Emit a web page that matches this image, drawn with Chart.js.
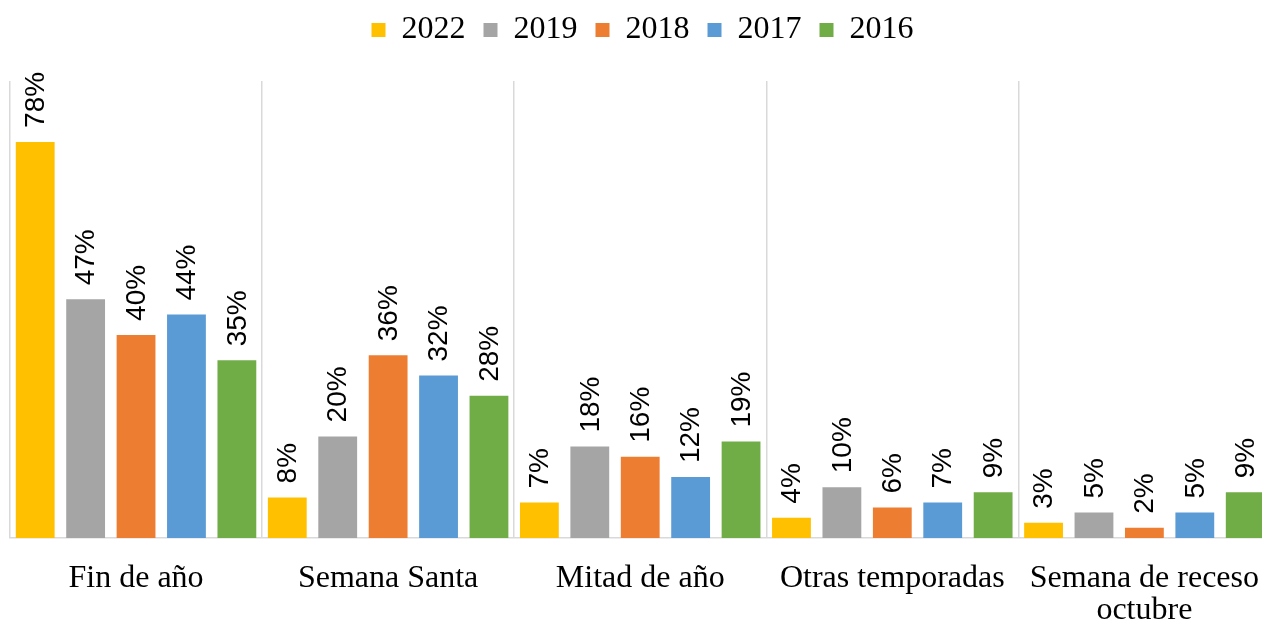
<!DOCTYPE html>
<html><head><meta charset="utf-8">
<script src="https://cdn.jsdelivr.net/npm/chart.js@4"></script>
<style>html,body{margin:0;padding:0;overflow:hidden;background:#fff;width:1262px;height:626px}
#wrap{position:absolute;left:0;top:0;width:1285px;height:626px}</style>
</head><body><div id="wrap"><canvas id="c"></canvas></div>
<script>
const categories = ['Fin de año','Semana Santa','Mitad de año','Otras temporadas',['Semana de receso','octubre']];
const seriesNames = ['2022','2019','2018','2017','2016'];
const v2022 = [78, 8, 7, 4, 3];
const v2019 = [47, 20, 18, 10, 5];
const v2018 = [40, 36, 16, 6, 2];
const v2017 = [44, 32, 12, 7, 5];
const v2016 = [35, 28, 19, 9, 9];
const colors = ['#FFC000','#A5A5A5','#ED7D31','#5B9BD5','#70AD47'];
const allValues = [v2022, v2019, v2018, v2017, v2016];

const labelPlugin = {
  id: 'barLabels',
  afterInit(chart) {
    const lg = chart.legend;
    if (lg) {
      const orig = lg.fit.bind(lg);
      lg.fit = function () { orig(); this.height = 85; };
    }
  },
  afterDatasetsDraw(chart) {
    const ctx = chart.ctx;
    ctx.save();
    ctx.font = '28px "Liberation Sans", Arial, sans-serif';
    ctx.fillStyle = '#000';
    ctx.textAlign = 'left';
    ctx.textBaseline = 'middle';
    chart.data.datasets.forEach((ds, i) => {
      const meta = chart.getDatasetMeta(i);
      meta.data.forEach((bar, j) => {
        ctx.save();
        ctx.translate(bar.x + 1, bar.y - 14);
        ctx.rotate(-Math.PI / 2);
        ctx.fillText(ds.data[j] + '%', 0, 0);
        ctx.restore();
      });
    });
    ctx.restore();
  }
};

new Chart(document.getElementById('c'), {
  type: 'bar',
  data: {
    labels: categories,
    datasets: seriesNames.map((n, i) => ({
      label: n, data: allValues[i], backgroundColor: colors[i], borderWidth: 0,
      categoryPercentage: 1.0, barPercentage: 0.77
    }))
  },
  options: {
    responsive: true, maintainAspectRatio: false, animation: false,
    layout: { padding: { left: 10, right: 10, top: -4, bottom: 0 } },
    plugins: {
      legend: {
        position: 'top',
        labels: {
          boxWidth: 14, boxHeight: 14, padding: 18, color: '#000',
          font: { family: '"Liberation Serif", "Times New Roman", serif', size: 32 }
        }
      },
      tooltip: { enabled: false }
    },
    scales: {
      x: {
        grid: { color: '#D9D9D9', lineWidth: 1.5, drawTicks: false, offset: true },
        border: { color: '#D9D9D9', width: 1.5 },
        ticks: { color: '#000', padding: 25, maxRotation: 0, autoSkip: false,
          font: { family: '"Liberation Serif", "Times New Roman", serif', size: 32, lineHeight: 1.0 } },
        afterFit(s) { s.height = 88; }
      },
      y: {
        display: false, min: 0, max: 90
      }
    }
  },
  plugins: [labelPlugin]
});
</script></body></html>
